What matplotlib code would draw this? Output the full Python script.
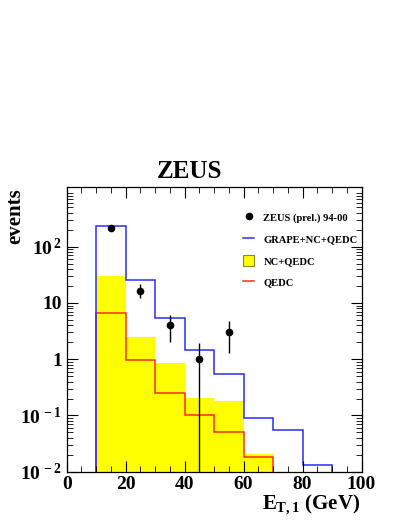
import matplotlib
matplotlib.use("Agg")
import matplotlib.pyplot as plt
from matplotlib.lines import Line2D
from matplotlib.patches import Patch
from matplotlib.ticker import FixedLocator, FixedFormatter, MultipleLocator, LogLocator, NullFormatter
import numpy as np

plt.rcParams['font.family'] = 'Liberation Serif'
plt.rcParams['font.weight'] = 'bold'
plt.rcParams['mathtext.fontset'] = 'custom'
plt.rcParams['mathtext.rm'] = 'Liberation Serif:bold'
plt.rcParams['mathtext.it'] = 'Liberation Serif:bold'
plt.rcParams['mathtext.bf'] = 'Liberation Serif:bold'

# bin edges in E_T,1 (GeV)
edges = [10, 20, 30, 40, 50, 60, 70, 80, 90]
grape_nc_qedc = [230, 25.7, 5.3, 1.48, 0.54, 0.091, 0.055, 0.013]
nc_qedc = [30, 2.5, 0.87, 0.205, 0.18, 0.0206]
qedc = [6.6, 0.96, 0.25, 0.10, 0.05, 0.0185]

# ZEUS data
data_x = [15, 25, 35, 45, 55]
data_y = [213, 16.3, 4.07, 1.0, 3.06]
data_lo = [198, 12.4, 2.0, 0.0, 1.28]
data_hi = [228, 21.6, 6.0, 1.98, 4.8]

ytick_vals = [0.01, 0.1, 1, 10, 100]
ytick_labels = [r'$10^{\,-2}$', r'$10^{\,-1}$', '1', '10', r'$10^{\,2}$']

fig = plt.figure(figsize=(4.09, 5.29), dpi=100)
ax = fig.add_axes([0.163, 0.1083, 0.721, 0.5376])

ax.stairs(nc_qedc, edges[:len(nc_qedc) + 1], baseline=1e-4, fill=True,
          color='#ffff00', linewidth=0)
ax.stairs(qedc, edges[:len(qedc) + 1], baseline=1e-4, color='#ff2a1a', linewidth=1.1)
ax.stairs(grape_nc_qedc, edges, baseline=1e-4, color='#2b2bff', linewidth=1.1)

yerr = [np.array(data_y) - np.array(data_lo), np.array(data_hi) - np.array(data_y)]
ax.errorbar(data_x, data_y, yerr=yerr, fmt='o', color='black', markersize=4.5,
            elinewidth=1.0, capsize=0)

ax.set_yscale('log')
ax.set_xlim(0, 100)
ax.set_ylim(0.01, 1135)

ax.yaxis.set_major_locator(FixedLocator(ytick_vals))
ax.yaxis.set_major_formatter(FixedFormatter(ytick_labels))
ax.yaxis.set_minor_locator(LogLocator(base=10, subs=np.arange(2, 10)))
ax.yaxis.set_minor_formatter(NullFormatter())
ax.xaxis.set_major_locator(MultipleLocator(20))
ax.xaxis.set_minor_locator(MultipleLocator(5))

ax.tick_params(which='both', direction='in', top=True, right=True, labelsize=14)
ax.tick_params(which='major', length=8, width=0.8)
ax.tick_params(which='minor', length=4, width=0.6)
ax.tick_params(axis='x', pad=3)
for s in ax.spines.values():
    s.set_linewidth(0.9)

handles = [
    Line2D([], [], marker='o', color='black', linestyle='none', markersize=4.5),
    Line2D([], [], color='#2b2bff', linewidth=1.1),
    Patch(facecolor='#ffff00', edgecolor='#8a8a20', linewidth=0.8),
    Line2D([], [], color='#ff2a1a', linewidth=1.1),
]
labels = ['ZEUS (prel.) 94-00', 'GRAPE+NC+QEDC', 'NC+QEDC', 'QEDC']
leg = ax.legend(handles, labels, loc='upper left', bbox_to_anchor=(0.585, 0.93),
                frameon=False, fontsize=7.6, handlelength=1.0, handleheight=1.3,
                handletextpad=0.9, labelspacing=0.95, borderaxespad=0)

fig.text(0.463, 0.6635, 'ZEUS', fontsize=18, fontweight='bold', ha='center', va='baseline')
fig.text(0.038, 0.645, 'events', fontsize=15, fontweight='bold', rotation=90,
         ha='center', va='top')
fig.text(0.882, 0.045, r'$E_{T,1}$ (GeV)', fontsize=15, ha='right', va='center')

fig.savefig('out.png', dpi=100)
